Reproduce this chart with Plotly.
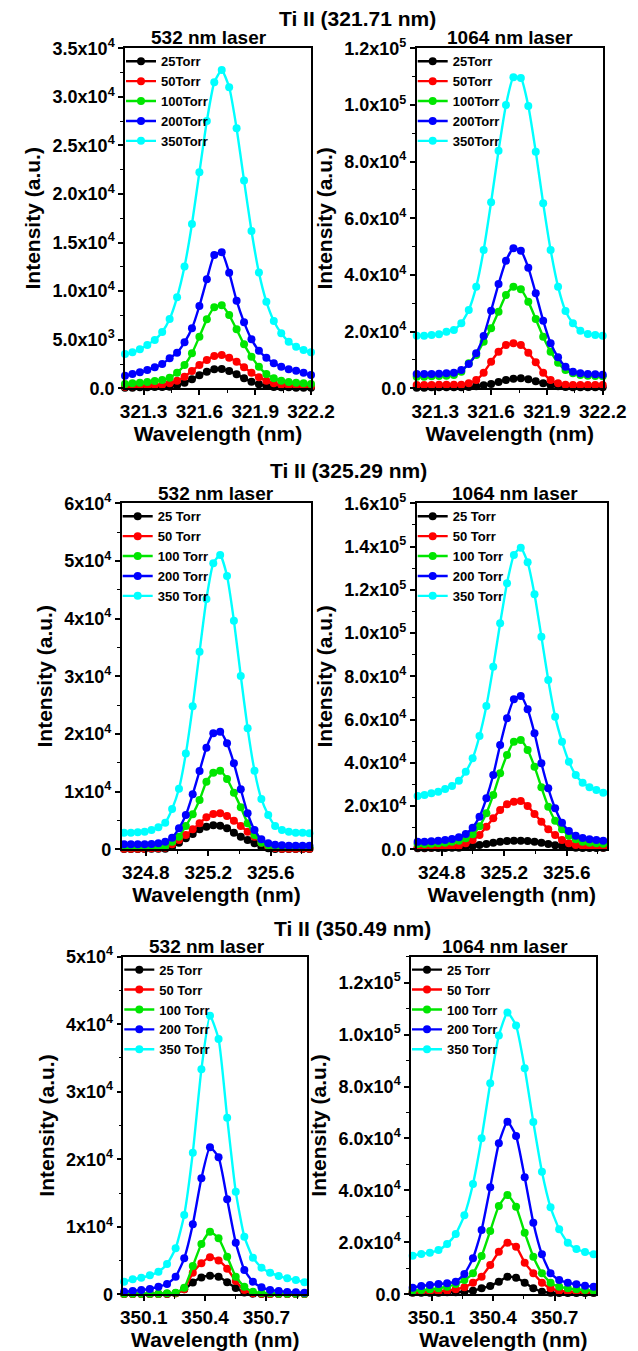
import plotly.graph_objects as go

# ---------------- DATA ----------------
pressures_a = ["25Torr", "50Torr", "100Torr", "200Torr", "350Torr"]
pressures_b = ["25 Torr", "50 Torr", "100 Torr", "200 Torr", "350 Torr"]

# Ti II 321.71 nm
wl_321 = [321.20, 321.24, 321.28, 321.32, 321.36, 321.40, 321.44, 321.48, 321.52, 321.56,
          321.60, 321.64, 321.68, 321.72, 321.76, 321.80, 321.84, 321.88, 321.92, 321.96,
          322.00, 322.04, 322.08, 322.12, 322.16, 322.20]
i321_532_25 = [65, 65, 100, 100, 134, 134, 168, 305, 580, 923, 1335, 1712, 1952, 1987, 1781, 1438, 1026, 683, 408, 237, 134, 100, 100, 65, 65, 65]
i321_532_50 = [168, 202, 237, 271, 305, 374, 511, 786, 1198, 1781, 2399, 2913, 3325, 3428, 3154, 2742, 2159, 1609, 1129, 786, 511, 374, 305, 271, 237, 202]
i321_532_100 = [443, 511, 580, 649, 751, 854, 1095, 1609, 2398, 3600, 5316, 7097, 8332, 8538, 7543, 6067, 4523, 3253, 2227, 1472, 1026, 786, 649, 580, 511, 443]
i321_532_200 = [1301, 1472, 1644, 1884, 2159, 2502, 3085, 3669, 4732, 6174, 8473, 11218, 13724, 13998, 11905, 9022, 6791, 5041, 3874, 3154, 2570, 2227, 1952, 1815, 1609, 1369]
i321_532_350 = [3535, 3706, 4015, 4461, 4976, 5800, 7138, 9368, 12526, 16918, 22237, 27522, 31503, 32773, 30988, 26767, 21380, 16198, 11908, 8922, 6932, 5662, 4804, 4290, 3946, 3706]

i321_1064_25 = [224, 224, 341, 341, 341, 341, 341, 459, 694, 1047, 1518, 2224, 2929, 3400, 3518, 3165, 2459, 1753, 1047, 694, 459, 341, 341, 341, 341, 341]
i321_1064_50 = [1165, 1165, 1165, 1282, 1282, 1282, 1282, 1753, 2929, 5518, 9400, 12929, 15282, 15870, 15282, 12576, 9165, 5518, 2929, 1753, 1282, 1165, 1165, 1165, 1165, 1165]
i321_1064_100 = [4106, 4106, 4223, 4341, 4459, 4694, 5870, 8811, 11752, 16458, 21164, 27046, 32929, 35870, 34929, 30576, 24459, 18223, 12929, 9047, 6459, 5282, 4694, 4459, 4341, 4223]
i321_1064_200 = [5047, 5047, 5047, 5165, 5282, 5518, 6459, 8576, 12341, 18471, 27388, 36800, 45035, 49400, 48576, 42576, 33518, 23870, 15871, 10929, 7635, 5871, 5282, 5047, 4929, 4812]
i321_1064_350 = [18588, 18588, 18824, 19059, 20000, 20588, 22941, 27647, 35882, 48824, 65647, 83882, 100000, 109765, 109529, 99647, 83529, 65294, 48824, 35882, 27294, 22941, 20353, 19176, 18824, 18588]

# Ti II 325.29 nm
wl_325_532 = [324.660, 324.704, 324.748, 324.792, 324.836, 324.880, 324.924, 324.968, 325.012, 325.056,
              325.100, 325.144, 325.188, 325.232, 325.276, 325.320, 325.364, 325.408, 325.452, 325.496,
              325.540, 325.584, 325.628, 325.672, 325.716, 325.760, 325.804, 325.848]
i325_532_25 = [58, 58, 58, 58, 116, 116, 116, 462, 1156, 1908, 2659, 3468, 3931, 4162, 4104, 3642, 2890, 2197, 1618, 1040, 462, 173, 58, 58, 58, 58, 58, 58]
i325_532_50 = [116, 116, 116, 116, 173, 173, 289, 867, 1618, 2486, 3468, 4509, 5549, 6127, 6243, 5780, 4971, 4046, 3064, 2197, 1156, 462, 231, 116, 116, 116, 116, 116]
i325_532_100 = [347, 347, 347, 347, 405, 405, 578, 1329, 2197, 4046, 6069, 8555, 11734, 13295, 13642, 12197, 9827, 7283, 4509, 2486, 1156, 694, 462, 347, 347, 347, 347, 347]
i325_532_200 = [867, 867, 867, 867, 925, 1040, 1329, 2023, 3642, 5954, 9538, 13584, 17630, 20116, 20405, 18382, 14913, 10405, 6243, 3353, 1734, 1040, 809, 694, 636, 636, 636, 636]
i325_532_350 = [2890, 2890, 2948, 3064, 3353, 3815, 4624, 7000, 10500, 16600, 24800, 34277, 43410, 49595, 51040, 47399, 39653, 30058, 20983, 13642, 8728, 5954, 4046, 3353, 3064, 2890, 2890, 2775]

wl_325_1064 = [324.646, 324.690, 324.734, 324.778, 324.822, 324.866, 324.910, 324.954, 324.998, 325.042,
               325.086, 325.130, 325.174, 325.218, 325.262, 325.306, 325.350, 325.394, 325.438, 325.482,
               325.526, 325.570, 325.614, 325.658, 325.702, 325.746, 325.790, 325.834]
i325_1064_25 = [462, 462, 617, 617, 617, 771, 771, 1079, 1541, 2004, 2466, 3083, 3545, 3854, 4008, 4008, 3854, 3545, 3083, 2466, 1850, 1387, 1079, 771, 617, 617, 617, 617]
i325_1064_50 = [925, 925, 925, 1079, 1079, 1233, 1696, 2775, 4316, 6628, 10482, 14335, 18189, 20809, 22042, 22351, 20039, 16339, 12794, 9249, 6628, 4316, 2775, 2004, 1541, 1233, 1079, 925]
i325_1064_100 = [2466, 2466, 2620, 2775, 3083, 3545, 4008, 5087, 6936, 10636, 16647, 25125, 35145, 43622, 49788, 50559, 45934, 38227, 28671, 19730, 13256, 9249, 6320, 4624, 3545, 3083, 2775, 2620]
i325_1064_200 = [3545, 3545, 3699, 4008, 4316, 4778, 5549, 7091, 10019, 15106, 23584, 34374, 48247, 60578, 69364, 70906, 64740, 53642, 39769, 28208, 18960, 12331, 8478, 6320, 5241, 4624, 4316, 4008]
i325_1064_350 = [24663, 25125, 25896, 26667, 27900, 29287, 31753, 35915, 42081, 52408, 66281, 84470, 104509, 123006, 136108, 139499, 132717, 117919, 98343, 78304, 61349, 49788, 40539, 34374, 30829, 28671, 27437, 26204]

# Ti II 350.49 nm
wl_350_532 = [350.004, 350.046, 350.088, 350.130, 350.172, 350.214, 350.256, 350.298, 350.340, 350.382,
              350.424, 350.466, 350.508, 350.550, 350.592, 350.634, 350.676, 350.718, 350.760, 350.802,
              350.844, 350.886]
i350_532_25 = [49, 49, 49, 49, 49, 49, 148, 740, 1750, 2500, 2764, 2616, 1800, 950, 270, 99, 49, 49, 49, 49, 49, 49]
i350_532_50 = [49, 49, 49, 49, 49, 99, 148, 740, 3200, 4600, 5500, 5000, 3800, 1974, 642, 148, 99, 49, 49, 49, 49, 49]
i350_532_100 = [99, 99, 99, 99, 99, 148, 247, 987, 4195, 7453, 9279, 8292, 5577, 2616, 1135, 395, 197, 148, 99, 99, 99, 99]
i350_532_200 = [395, 494, 642, 790, 1135, 1530, 2616, 5331, 10365, 17177, 21767, 20286, 14067, 7651, 3603, 1876, 1037, 642, 494, 346, 296, 247]
i350_532_350 = [1876, 2221, 2468, 2813, 3356, 4492, 6811, 11747, 20977, 33317, 41264, 37808, 26160, 15202, 8539, 5429, 3949, 3208, 2715, 2369, 2122, 1777]

wl_350_1064 = [350.008, 350.050, 350.092, 350.134, 350.176, 350.218, 350.260, 350.302, 350.344, 350.386,
               350.428, 350.470, 350.512, 350.554, 350.596, 350.638, 350.680, 350.722, 350.764, 350.806,
               350.848, 350.890]
i350_1064_25 = [642, 642, 642, 642, 770, 770, 1027, 1412, 2310, 3209, 4878, 6803, 6418, 4493, 2310, 1027, 642, 513, 513, 513, 513, 513]
i350_1064_50 = [770, 898, 1027, 1155, 1412, 1925, 2696, 4493, 6803, 11293, 16428, 19894, 18354, 12193, 8086, 4493, 2310, 1412, 1027, 898, 770, 770]
i350_1064_100 = [1399, 1656, 1912, 2297, 2939, 3966, 5506, 8073, 14748, 24374, 33999, 38235, 33731, 23732, 14478, 8086, 4480, 2940, 2297, 1912, 1656, 1399]
i350_1064_200 = [2550, 3196, 3581, 3966, 4223, 4865, 7817, 13862, 24759, 41201, 58143, 66479, 60954, 45052, 27589, 15400, 8086, 5506, 4480, 3838, 3324, 2940]
i350_1064_350 = [14865, 15518, 16031, 17058, 19368, 23219, 30411, 42471, 60069, 81258, 99615, 108472, 103466, 87035, 66346, 47215, 33500, 25029, 19888, 17443, 16288, 15402]

# tick labels
xt_321 = [321.3, 321.6, 321.9, 322.2]
xt_325 = [324.8, 325.2, 325.6]
xt_350 = [350.1, 350.4, 350.7]
yv_p1 = [0, 5000, 10000, 15000, 20000, 25000, 30000, 35000]
yt_p1 = ["0.0", "5.0x10<sup>3</sup>", "1.0x10<sup>4</sup>", "1.5x10<sup>4</sup>", "2.0x10<sup>4</sup>",
         "2.5x10<sup>4</sup>", "3.0x10<sup>4</sup>", "3.5x10<sup>4</sup>"]
yv_p2 = [0, 20000, 40000, 60000, 80000, 100000, 120000]
yt_p2 = ["0.0", "2.0x10<sup>4</sup>", "4.0x10<sup>4</sup>", "6.0x10<sup>4</sup>", "8.0x10<sup>4</sup>",
         "1.0x10<sup>5</sup>", "1.2x10<sup>5</sup>"]
yv_p3 = [0, 10000, 20000, 30000, 40000, 50000, 60000]
yt_p3 = ["0", "1x10<sup>4</sup>", "2x10<sup>4</sup>", "3x10<sup>4</sup>", "4x10<sup>4</sup>",
         "5x10<sup>4</sup>", "6x10<sup>4</sup>"]
yv_p4 = [0, 20000, 40000, 60000, 80000, 100000, 120000, 140000, 160000]
yt_p4 = ["0.0", "2.0x10<sup>4</sup>", "4.0x10<sup>4</sup>", "6.0x10<sup>4</sup>", "8.0x10<sup>4</sup>",
         "1.0x10<sup>5</sup>", "1.2x10<sup>5</sup>", "1.4x10<sup>5</sup>", "1.6x10<sup>5</sup>"]
yv_p5 = [0, 10000, 20000, 30000, 40000, 50000]
yt_p5 = ["0", "1x10<sup>4</sup>", "2x10<sup>4</sup>", "3x10<sup>4</sup>", "4x10<sup>4</sup>", "5x10<sup>4</sup>"]
yv_p6 = [0, 20000, 40000, 60000, 80000, 100000, 120000]
yt_p6 = yt_p2

colors = ["#000000", "#FF0000", "#00E600", "#0000FF", "#00FFFF"]

# ---------------- LAYOUT ----------------
W, H = 638, 1351
FONT = "Liberation Sans, Arial, sans-serif"

panels = [
    dict(wl=wl_321, ys=[i321_532_25, i321_532_50, i321_532_100, i321_532_200, i321_532_350], names=pressures_a,
         box=(125, 48.3, 311, 388.3), xr=[321.2, 322.2], xt=xt_321, x0=321.3, xm=0.15,
         yr=[0, 35000], yv=yv_p1, yt=yt_p1, ym=2500),
    dict(wl=wl_321, ys=[i321_1064_25, i321_1064_50, i321_1064_100, i321_1064_200, i321_1064_350], names=pressures_a,
         box=(416.7, 48.3, 602.7, 388.3), xr=[321.2, 322.2], xt=xt_321, x0=321.3, xm=0.15,
         yr=[0, 120000], yv=yv_p2, yt=yt_p2, ym=10000),
    dict(wl=wl_325_532, ys=[i325_532_25, i325_532_50, i325_532_100, i325_532_200, i325_532_350], names=pressures_b,
         box=(121.7, 503.3, 311.3, 849.3), xr=[324.645, 325.86], xt=xt_325, x0=324.8, xm=0.2,
         yr=[0, 60000], yv=yv_p3, yt=yt_p3, ym=5000),
    dict(wl=wl_325_1064, ys=[i325_1064_25, i325_1064_50, i325_1064_100, i325_1064_200, i325_1064_350], names=pressures_b,
         box=(416.7, 503.3, 606.7, 849.3), xr=[324.64, 325.856], xt=xt_325, x0=324.8, xm=0.2,
         yr=[0, 160000], yv=yv_p4, yt=yt_p4, ym=10000),
    dict(wl=wl_350_532, ys=[i350_532_25, i350_532_50, i350_532_100, i350_532_200, i350_532_350], names=pressures_b,
         box=(123.3, 956.7, 307.3, 1294.3), xr=[350.0, 350.9], xt=xt_350, x0=350.1, xm=0.15,
         yr=[0, 50000], yv=yv_p5, yt=yt_p5, ym=5000),
    dict(wl=wl_350_1064, ys=[i350_1064_25, i350_1064_50, i350_1064_100, i350_1064_200, i350_1064_350], names=pressures_b,
         box=(411, 956.7, 595.7, 1294.3), xr=[350.0, 350.9], xt=xt_350, x0=350.1, xm=0.15,
         yr=[0, 130000], yv=yv_p6, yt=yt_p6, ym=10000),
]

fig = go.Figure()
layout = dict(width=W, height=H, margin=dict(l=0, r=0, t=0, b=0), paper_bgcolor="white",
              plot_bgcolor="white", font=dict(family=FONT, color="black", weight="bold"),
              showlegend=True)

for k, p in enumerate(panels):
    n = k + 1
    sfx = "" if n == 1 else str(n)
    L, T, R, B = p["box"]
    lg = "legend" if n == 1 else f"legend{n}"
    for j in range(5):
        fig.add_trace(go.Scatter(
            x=p["wl"], y=p["ys"][j], name=p["names"][j], mode="lines+markers",
            line=dict(color=colors[j], width=2.4, shape="spline", smoothing=0.5),
            marker=dict(color=colors[j], size=8),
            xaxis=f"x{sfx}", yaxis=f"y{sfx}", legend=lg, cliponaxis=False))
    axcommon = dict(showline=True, linecolor="black", linewidth=1.5, mirror=True,
                    ticks="outside", ticklen=5, tickwidth=1.5, tickcolor="black",
                    showgrid=False, zeroline=False, automargin=False)
    layout[f"xaxis{sfx}"] = dict(
        domain=[L / W, R / W], anchor=f"y{sfx}", range=p["xr"],
        tickmode="array", tickvals=p["xt"], ticktext=[f"{v:.1f}" for v in p["xt"]],
        tickfont=dict(size=19, family=FONT, weight="bold"),
        minor=dict(tickmode="linear", tick0=p["x0"], dtick=p["xm"], ticks="outside", ticklen=3,
                   tickwidth=1.2, tickcolor="black"),
        title=dict(text="Wavelength (nm)", font=dict(size=21, family=FONT, weight="bold"), standoff=2),
        **axcommon)
    layout[f"yaxis{sfx}"] = dict(
        domain=[1 - B / H, 1 - T / H], anchor=f"x{sfx}", range=p["yr"],
        tickmode="array", tickvals=p["yv"], ticktext=p["yt"],
        tickfont=dict(size=18, family=FONT, weight="bold"),
        minor=dict(tickmode="linear", tick0=0, dtick=p["ym"], ticks="outside", ticklen=3,
                   tickwidth=1.2, tickcolor="black"),
        title=dict(text="Intensity (a.u.)", font=dict(size=21, family=FONT, weight="bold"), standoff=6),
        **axcommon)
    layout[lg] = dict(x=(L - 4) / W, y=1 - (T - 2) / H, xanchor="left", yanchor="top",
                      bgcolor="rgba(0,0,0,0)", borderwidth=0, itemwidth=30, tracegroupgap=0,
                      font=dict(size=13, family=FONT, weight="bold"))

annos = []
titles = [("Ti II (321.71 nm)", 357, 18), ("Ti II (325.29 nm)", 348, 470), ("Ti II (350.49 nm)", 353, 928)]
for t, xp, yp in titles:
    annos.append(dict(text=t, x=xp / W, y=1 - yp / H, xref="paper", yref="paper", showarrow=False,
                      xanchor="center", yanchor="middle", font=dict(size=21, family=FONT, weight="bold")))
subtitles = [("532 nm laser", 209, 37), ("1064 nm laser", 510, 37),
             ("532 nm laser", 216, 493), ("1064 nm laser", 515, 493),
             ("532 nm laser", 207, 946), ("1064 nm laser", 505, 946)]
for t, xp, yp in subtitles:
    annos.append(dict(text=t, x=xp / W, y=1 - yp / H, xref="paper", yref="paper", showarrow=False,
                      xanchor="center", yanchor="middle", font=dict(size=19, family=FONT, weight="bold")))
layout["annotations"] = annos

fig.update_layout(**layout)
fig.write_html("out.html")
